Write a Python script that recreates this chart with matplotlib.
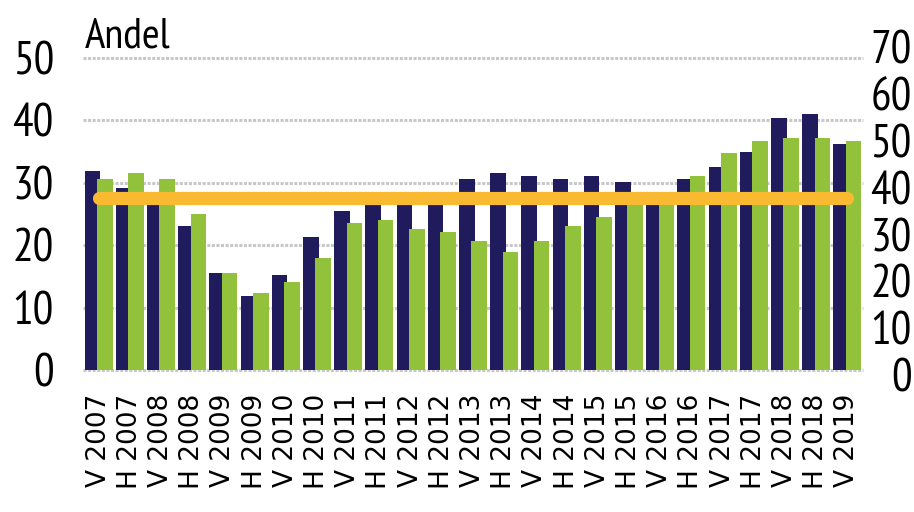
import matplotlib
matplotlib.use("Agg")
import matplotlib.pyplot as plt
import numpy as np

categories = ["V 2007", "H 2007", "V 2008", "H 2008", "V 2009", "H 2009", "V 2010", "H 2010",
              "V 2011", "H 2011", "V 2012", "H 2012", "V 2013", "H 2013", "V 2014", "H 2014",
              "V 2015", "H 2015", "V 2016", "H 2016", "V 2017", "H 2017", "V 2018", "H 2018",
              "V 2019"]
# dark series, left axis (0-50)
navy_values = [31.9, 29.2, 28.5, 23.1, 15.6, 11.9, 15.2, 21.3, 25.5, 28.0, 28.0, 28.0, 30.6,
               31.6, 31.1, 30.6, 31.1, 30.1, 28.5, 30.6, 32.5, 34.9, 40.4, 41.0, 36.2]
# green series, right axis (0-70)
green_values = [42.9, 44.2, 42.9, 34.9, 21.8, 17.2, 19.8, 25.2, 33.0, 33.7, 31.7, 31.0, 29.0,
                26.4, 29.0, 32.3, 34.3, 39.2, 39.2, 43.5, 48.7, 51.4, 52.1, 52.1, 51.4]
# orange reference level, right axis
benchmark_right = 38.6

left_ticks = [0, 10, 20, 30, 40, 50]
right_ticks = [0, 10, 20, 30, 40, 50, 60, 70]

NAVY = "#201b5c"
GREEN = "#92c13b"
ORANGE = "#f9b931"
GRID = "#c8c8c8"

narrow = ["PT Sans Narrow", "Archivo Narrow", "Roboto Condensed", "DejaVu Sans"]

fig = plt.figure(figsize=(9.14, 5.12), dpi=100)
W, H = 914, 512
ax = fig.add_axes([83 / W, 1 - 370 / H, (863 - 83) / W, (370 - 58) / H])
ax2 = ax.twinx()
# right-hand scale labels (placed slightly taller than the plot area, as in the original)
axr = fig.add_axes([83 / W, 1 - 375 / H, (863 - 83) / W, (375 - 47.5) / H])

x = np.arange(len(categories))
bw = 0.5
ax.bar(x - 0.2, navy_values, width=bw, color=NAVY, zorder=2)
ax2.bar(x + 0.2, green_values, width=bw, color=GREEN, zorder=2)
ax2.plot([x[0], x[-1]], [benchmark_right, benchmark_right], color=ORANGE, lw=9.5,
         solid_capstyle="round", zorder=3)

ax.set_xlim(-0.5, len(categories) - 0.5)
ax.set_ylim(0, 50)
ax2.set_ylim(0, 70)
ax2.set_yticks([])
ax.set_yticks(left_ticks)
ax.set_xticks(x)
ax.set_xticklabels(categories, rotation=90, fontsize=19, family="DejaVu Sans")
ax.tick_params(axis="x", length=0, pad=17)
ax.tick_params(axis="y", length=0, pad=21, labelsize=33)
for lbl in ax.get_yticklabels():
    lbl.set_family(narrow)

axr.set_ylim(0, 70)
axr.set_xticks([])
axr.set_yticks(right_ticks)
axr.yaxis.tick_right()
axr.tick_params(axis="y", length=0, pad=35, labelsize=33)
for lbl in axr.get_yticklabels():
    lbl.set_family(narrow)
    lbl.set_horizontalalignment("right")
axr.patch.set_visible(False)

ax.yaxis.grid(True, color=GRID, linestyle=(0, (1, 0.5)), linewidth=2.2, zorder=0)
ax.set_axisbelow(True)
for gl in ax.get_ygridlines():
    gl.set_clip_on(False)

for a in (ax, ax2, axr):
    for s in a.spines.values():
        s.set_visible(False)
ax2.patch.set_visible(False)

fig.text(85 / W, 1 - 47 / H, "Andel", fontsize=31, family=narrow, va="baseline", ha="left")

fig.savefig("out.png", dpi=100)
